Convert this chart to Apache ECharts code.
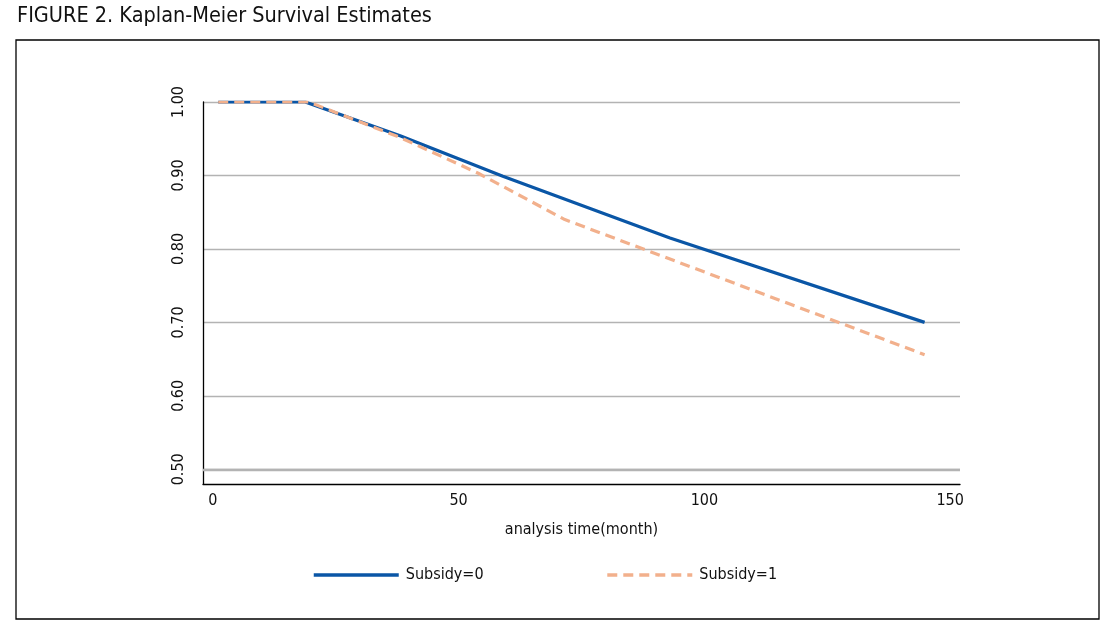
<!DOCTYPE html>
<html>
<head>
<meta charset="utf-8">
<script src="https://cdn.jsdelivr.net/npm/echarts@6/dist/echarts.min.js"></script>
<style>
html,body{margin:0;padding:0;background:#fff;}
#c{width:1117px;height:634px;}
</style>
</head>
<body>
<div id="c"></div>
<script>
const titleText = 'FIGURE 2. Kaplan-Meier Survival Estimates';
const xName = 'analysis time(month)';
const seriesNames = ['Subsidy=0', 'Subsidy=1'];
const xTickLabels = [0, 50, 100, 150];
const yTickLabels = [0.5, 0.6, 0.7, 0.8, 0.9, 1.0];

const months0 = [1.1, 18.8, 38.1, 59.0, 93.0, 144.8];
const surv0   = [1.000, 1.000, 0.954, 0.899, 0.815, 0.700];
const months1 = [1.1, 19.5, 38.0, 54.0, 71.6, 144.8];
const surv1   = [1.000, 1.000, 0.952, 0.903, 0.840, 0.656];

const FONT = '"Liberation Sans Narrow","DejaVu Sans Condensed","Roboto Condensed",Roboto,sans-serif';

const chart = echarts.init(document.getElementById('c'), null, {renderer: 'canvas'});
const transparent = 'rgba(0,0,0,0)';

chart.setOption({
  backgroundColor: '#fff',
  animation: false,
  title: {
    text: titleText,
    left: 12, top: 0,
    textStyle: {fontFamily: FONT, fontSize: 21.5, fontWeight: 'normal', color: '#111'}
  },
  graphic: [{
    type: 'rect',
    shape: {x: 16, y: 40, width: 1083, height: 579},
    style: {fill: 'none', stroke: '#000', lineWidth: 1.3},
    silent: true, z: -1
  }],
  legend: {
    left: 307, top: 562,
    itemWidth: 85, itemHeight: 14, itemGap: 122,
    itemStyle: {opacity: 0},
    lineStyle: {width: 3.5},
    textStyle: {fontFamily: FONT, fontSize: 16, color: '#111', padding: [0, 0, 0, 2]},
    data: seriesNames
  },
  grid: {left: 203, right: 157, top: 102, bottom: 150},
  xAxis: {
    type: 'value',
    min: -2, max: 152, interval: 1,
    name: xName,
    nameLocation: 'middle',
    nameGap: 38,
    nameTextStyle: {fontFamily: FONT, fontSize: 16, color: '#111'},
    axisLine: {show: true, onZero: false, lineStyle: {color: '#000', width: 1.3}},
    axisTick: {show: false},
    splitLine: {show: false},
    axisLabel: {
      margin: 9,
      fontFamily: FONT, fontSize: 16, color: '#111',
      formatter: function (v) {
        const r = Math.round(v);
        return (Math.abs(v - r) < 1e-6 && xTickLabels.indexOf(r) >= 0) ? String(r) : '';
      }
    }
  },
  yAxis: {
    type: 'value',
    min: 0.48, max: 1.0, interval: 0.02,
    axisLine: {show: true, onZero: false, lineStyle: {color: '#000', width: 1.3}},
    axisTick: {show: false},
    splitLine: {
      show: true,
      lineStyle: {color: [transparent, '#b3b3b3', transparent, transparent, transparent], width: 1.3}
    },
    axisLabel: {
      rotate: 90,
      margin: 16,
      fontFamily: FONT, fontSize: 16, color: '#111',
      formatter: function (v) {
        for (let i = 0; i < yTickLabels.length; i++) {
          if (Math.abs(v - yTickLabels[i]) < 1e-6) return yTickLabels[i].toFixed(2);
        }
        return '';
      }
    }
  },
  series: [
    {
      name: seriesNames[0],
      type: 'line',
      symbol: 'none',
      data: months0.map((m, i) => [m, surv0[i]]),
      lineStyle: {color: '#0a56a6', width: 3.2},
      itemStyle: {color: '#0a56a6'},
      markLine: {
        silent: true,
        symbol: 'none',
        label: {show: false},
        lineStyle: {color: '#b3b3b3', width: 2.4, type: 'solid'},
        data: [{yAxis: yTickLabels[0]}]
      },
      z: 2
    },
    {
      name: seriesNames[1],
      type: 'line',
      symbol: 'none',
      data: months1.map((m, i) => [m, surv1[i]]),
      lineStyle: {color: '#f2b08c', width: 3.2, type: [10, 6]},
      itemStyle: {color: '#f2b08c'},
      z: 3
    }
  ]
});
</script>
</body>
</html>
